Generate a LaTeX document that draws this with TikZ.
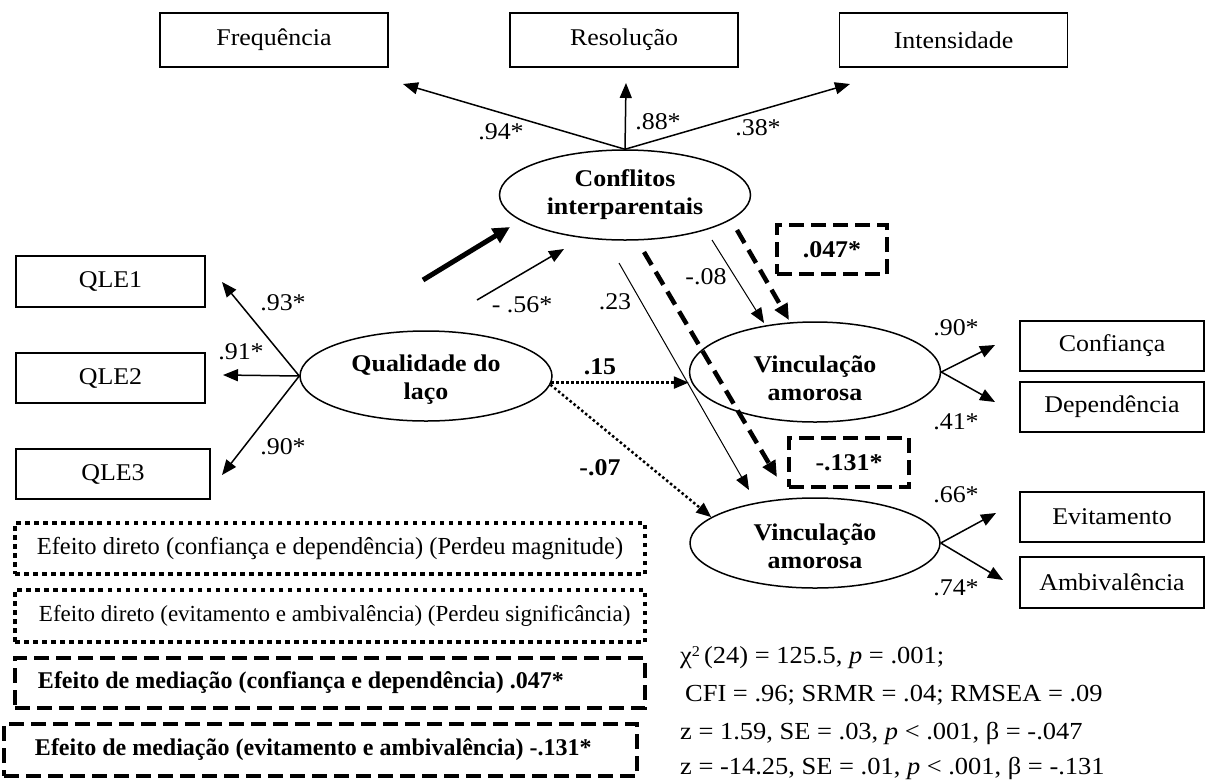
\documentclass[tikz,border=0pt]{standalone}
\usepackage{fontspec}
\setmainfont{Liberation Serif}[FakeStretch=1.08]
\newfontfamily\plainserif{Liberation Serif}
\usetikzlibrary{arrows.meta,shapes.geometric}
\newcommand\lowtxt[2]{\raisebox{-#1}[\height][\depth]{\begin{tabular}{@{}c@{}}#2\end{tabular}}}
\tikzset{
 obox/.style={draw, line width=1.5pt, inner sep=0pt, font=\fontsize{24}{27}\selectfont},
 lat/.style={draw, ellipse, line width=1.5pt, inner sep=0pt, font=\fontsize{24}{27.5}\selectfont\bfseries},
 arr/.style={line width=1.5pt, -{Triangle[length=15pt,width=12pt]}},
 thinarr/.style={line width=1pt, -{Triangle[length=15pt,width=12pt]}},
 boldarr/.style={line width=5pt, -{Triangle[length=17pt,width=16pt]}},
 dasharr/.style={line width=4.5pt, dash pattern=on 15pt off 8pt, -{Triangle[length=16pt,width=14pt]}},
 dotarr/.style={line width=2.5pt, dash pattern=on 2.5pt off 2.5pt, -{Triangle[length=15pt,width=12pt]}},
 dotbox/.style={draw, line width=4pt, dash pattern=on 4.5pt off 4.5pt, inner sep=0pt},
 dashbox/.style={draw, line width=4pt, dash pattern=on 15pt off 7pt, inner sep=0pt, font=\fontsize{24}{27}\selectfont\bfseries},
 lbl/.style={inner sep=0pt, font=\fontsize{24}{27}\selectfont},
 blbl/.style={inner sep=0pt, font=\fontsize{24}{27}\selectfont\bfseries},
 stat/.style={inner sep=0pt, anchor=west, font=\fontsize{24.5}{27}\selectfont},
}
\begin{document}
\begin{tikzpicture}[x=1pt,y=-1pt]
\useasboundingbox (0,0) rectangle (1205,780);
\fill[white] (0,0) rectangle (1205,780);

% top indicator boxes
\node[obox, minimum width=228pt, minimum height=54pt] (freq) at (274,40) {Frequência};
\node[obox, minimum width=228pt, minimum height=54pt] (reso) at (624,40) {Resolução};
\node[obox, minimum width=228pt, minimum height=54pt] (inte) at (953.5,40) {Intensidade};

% left indicator boxes
\node[obox, minimum width=189pt, minimum height=51pt] (qle1) at (110.5,281.5) {QLE1};
\node[obox, minimum width=189pt, minimum height=50pt] (qle2) at (110.5,378) {QLE2};
\node[obox, minimum width=194pt, minimum height=50pt] (qle3) at (113,474) {QLE3};

% right indicator boxes
\node[obox, minimum width=184pt, minimum height=50pt] (conf) at (1112,346) {Confiança};
\node[obox, minimum width=184pt, minimum height=50pt] (depe) at (1112,407) {Dependência};
\node[obox, minimum width=184pt, minimum height=50pt] (evit) at (1112,517) {Evitamento};
\node[obox, minimum width=184pt, minimum height=51pt] (ambi) at (1112,582.5) {Ambivalência};

% latent variables
\node[lat, minimum width=251pt, minimum height=90pt] (confl) at (625,195) {\lowtxt{0pt}{Conflitos\\interparentais}};
\node[lat, minimum width=252pt, minimum height=90pt] (qual) at (426,376) {\lowtxt{4pt}{Qualidade do\\laço}};
\node[lat, minimum width=251pt, minimum height=100pt] (vinc1) at (815,372) {\lowtxt{9pt}{Vinculação\\amorosa}};
\node[lat, minimum width=250pt, minimum height=90pt] (vinc2) at (815,543) {\lowtxt{6pt}{Vinculação\\amorosa}};

% free arrow ends
\coordinate (tF) at (403,84);
\coordinate (tR) at (626,83);
\coordinate (tI) at (850,84);
\coordinate (t1) at (222,282);
\coordinate (t2) at (223,375);
\coordinate (t3) at (222,475);
\coordinate (tC) at (995,345);
\coordinate (tD) at (995,402);
\coordinate (tE) at (996,513);
\coordinate (tA) at (1003,580);
\coordinate (bs) at (423,280);
\coordinate (be) at (510,227);
\coordinate (ms) at (477,300);
\coordinate (me) at (564,249);
\coordinate (as) at (619,263);
\coordinate (ae) at (749,490);
\coordinate (bs2) at (712,240);
\coordinate (be2) at (764,323);
\coordinate (ds1) at (644,252);
\coordinate (de1) at (777,477);
\coordinate (ds2) at (737,230);
\coordinate (de2) at (789,320);

% measurement arrows
\draw[arr] (confl.north) -- (tF);
\draw[arr] (confl.north) -- (tR);
\draw[arr] (confl.north) -- (tI);
\draw[arr] (qual.west) -- (t1);
\draw[arr] (qual.west) -- (t2);
\draw[arr] (qual.west) -- (t3);
\draw[arr] (vinc1.east) -- (tC);
\draw[arr] (vinc1.east) -- (tD);
\draw[arr] (vinc2.east) -- (tE);
\draw[arr] (vinc2.east) -- (tA);

% structural arrows
\draw[boldarr] (bs) -- (be);
\draw[arr] (ms) -- (me);
\draw[thinarr] (as) -- (ae);
\draw[thinarr] (bs2) -- (be2);
\draw[dasharr] (ds1) -- (de1);
\draw[dasharr] (ds2) -- (de2);
\draw[dotarr] (qual.-3) -- (qual.-3 -| vinc1.west);
\draw[dotarr] (qual.-4) -- (vinc2.166);

% coefficient labels
\node[lbl] (l94) at (501,132) {.94*};
\node[lbl] (l88) at (658,122) {.88*};
\node[lbl] (l38) at (758,128) {.38*};
\node[lbl] (l93) at (283,303) {.93*};
\node[lbl] (l91) at (241,352) {.91*};
\node[lbl] (l90) at (283,447) {.90*};
\node[lbl] (l56) at (522,305) {- .56*};
\node[lbl] (l23) at (615,302) {.23};
\node[lbl] (l08) at (706,277) {-.08};
\node[blbl] (l15) at (600,367) {.15};
\node[blbl] (l07) at (600,468) {-.07};
\node[lbl] (r90) at (956,328) {.90*};
\node[lbl] (r41) at (956,422) {.41*};
\node[lbl] (r66) at (956,495) {.66*};
\node[lbl] (r74) at (956,588) {.74*};

% mediation boxes
\node[dashbox, minimum width=110pt, minimum height=49pt] (m047) at (832,249.5) {.047*};
\node[dashbox, minimum width=120pt, minimum height=49pt] (m131) at (849,462.5) {-.131*};

% legend boxes
\node[dotbox, minimum width=630pt, minimum height=51pt, font=\fontsize{24.5}{27}\plainserif] (leg1) at (330,548.5) {Efeito direto (confiança e dependência) (Perdeu magnitude)};
\node[dotbox, minimum width=630pt, minimum height=52pt, font=\fontsize{23}{27}\plainserif] (leg2) at (330,616) {\makebox[630pt][l]{\hspace{24pt}Efeito direto (evitamento e ambivalência) (Perdeu significância)}};
\node[dashbox, minimum width=630pt, minimum height=50pt] (leg3) at (330,683) {\makebox[630pt][l]{\hspace{23pt}\fontsize{24}{27}\plainserif\bfseries Efeito de mediação (confiança e dependência) .047*}};
\node[dashbox, minimum width=633pt, minimum height=52pt] (leg4) at (320.5,750) {\makebox[633pt][l]{\hspace{31pt}\fontsize{24}{27}\plainserif\bfseries Efeito de mediação (evitamento e ambivalência) -.131*}};

% fit statistics
\node[stat] (s1) at (680,658) {χ\raisebox{7pt}{\fontsize{15}{15}\selectfont 2}\,(24) = 125.5, \textit{p} = .001;};
\node[stat] (s2) at (685,695) {CFI = .96; SRMR = .04; RMSEA = .09};
\node[stat] (s3) at (680,733) {z = 1.59, SE = .03, \textit{p} < .001, β = -.047};
\node[stat] (s4) at (680,768) {z = -14.25, SE = .01, \textit{p} < .001, β = -.131};
\end{tikzpicture}
\end{document}
